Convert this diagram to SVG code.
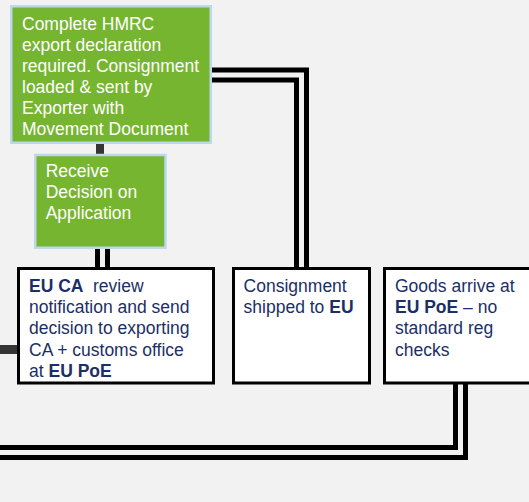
<svg xmlns="http://www.w3.org/2000/svg" width="529" height="502" viewBox="0 0 529 502">
<style>
.green{fill:#76b52f;stroke:#bdd7ee;stroke-width:2.5}
.white{fill:#ffffff;stroke:#000000;stroke-width:3}
.wt{font-family:"Liberation Sans",Arial,sans-serif;font-size:17.5px;fill:#ffffff}
.nt{font-family:"Liberation Sans",Arial,sans-serif;font-size:17.5px;fill:#1b2f66}
.b{font-weight:bold}
.dl{fill:none;stroke:#000000;stroke-width:15;stroke-linejoin:miter}
.gap{fill:none;stroke:#f2f2f2;stroke-width:5;stroke-linejoin:miter}
.stub{fill:#353535}
</style>
<rect width="529" height="502" fill="#f2f2f2"/>
<g id="connectors">
  <path class="dl" d="M212,75 H301.5 V268"/>
  <path class="gap" d="M212,75 H301.5 V268"/>
  <path class="dl" d="M460.5,384 V452.5 H-10"/>
  <path class="gap" d="M460.5,384 V452.5 H-10"/>
  <path class="dl" d="M102.5,249 V268"/>
  <path class="gap" d="M102.5,249 V268"/>
  <rect class="stub" x="96" y="144" width="8" height="10"/>
  <rect class="stub" x="0" y="345" width="18" height="9"/>
</g>
<g id="node-hmrc">
  <rect class="green" x="11.25" y="6.25" width="199.5" height="136.5"/>
  <text class="wt" x="22" y="29.5">Complete HMRC</text>
  <text class="wt" x="22" y="50.5">export declaration</text>
  <text class="wt" x="22" y="71.5">required. Consignment</text>
  <text class="wt" x="22" y="92.5">loaded &amp; sent by</text>
  <text class="wt" x="22" y="113.5">Exporter with</text>
  <text class="wt" x="22" y="134.5">Movement Document</text>
</g>
<g id="node-receive">
  <rect class="green" x="35.25" y="155" width="130.25" height="92.75"/>
  <text class="wt" x="45.7" y="176.7">Receive</text>
  <text class="wt" x="45.7" y="197.7">Decision on</text>
  <text class="wt" x="45.7" y="218.7">Application</text>
</g>
<g id="node-euca">
  <rect class="white" x="18.5" y="268.5" width="195" height="114.5"/>
  <text class="nt" x="29" y="292"><tspan class="b">EU CA</tspan><tspan x="93">review</tspan></text>
  <text class="nt" x="29" y="313.2">notification and send</text>
  <text class="nt" x="29" y="334.4">decision to exporting</text>
  <text class="nt" x="29" y="355.6">CA + customs office</text>
  <text class="nt" x="29" y="376.8">at <tspan class="b">EU PoE</tspan></text>
</g>
<g id="node-shipped">
  <rect class="white" x="233.5" y="268.5" width="136" height="114.5"/>
  <text class="nt" x="243.6" y="292">Consignment</text>
  <text class="nt" x="243.6" y="313.2">shipped to <tspan class="b">EU</tspan></text>
</g>
<g id="node-arrive">
  <rect class="white" x="384.5" y="268.5" width="160" height="114.5"/>
  <text class="nt" x="395" y="292">Goods arrive at</text>
  <text class="nt" x="395" y="313.2"><tspan class="b">EU PoE</tspan> – no</text>
  <text class="nt" x="395" y="334.4">standard reg</text>
  <text class="nt" x="395" y="355.6">checks</text>
</g>
</svg>
